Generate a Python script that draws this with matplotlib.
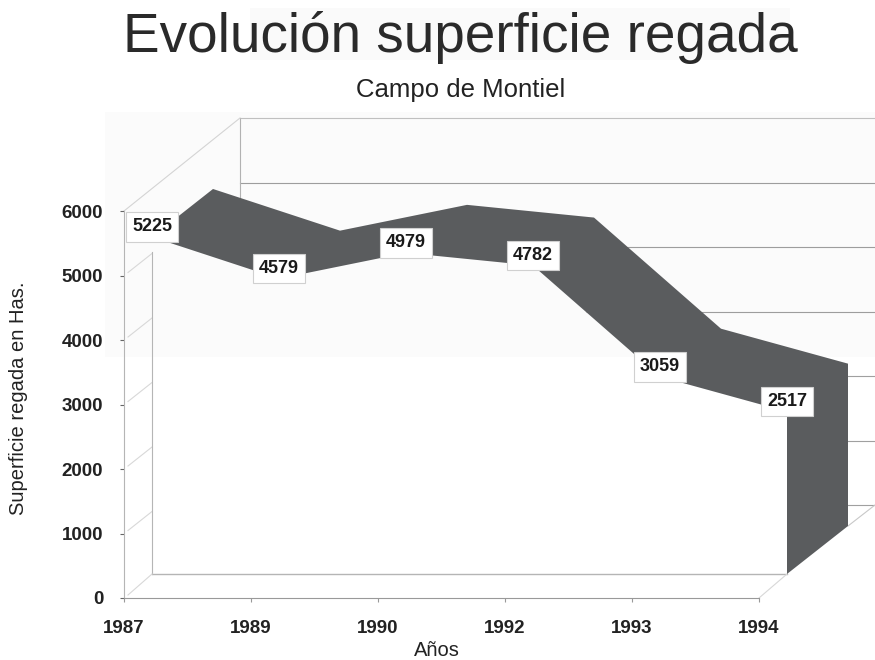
import matplotlib
matplotlib.use('Agg')
import matplotlib.pyplot as plt
from matplotlib.patches import Rectangle

plt.rcParams['font.family'] = ['Liberation Sans', 'DejaVu Sans']

# datos
anios = ['1987', '1989', '1990', '1992', '1993', '1994']
superficie = [5225, 4579, 4979, 4782, 3059, 2517]
ticks_y = [0, 1000, 2000, 3000, 4000, 5000, 6000]

fig = plt.figure(figsize=(8.75, 6.6), dpi=100)
ax = fig.add_axes([124 / 875, 62 / 660, 635 / 875, 387 / 660])
ax.set_xlim(0, 5)
ax.set_ylim(0, 6000)
ax.patch.set_alpha(0)

# pixeles a unidades de datos, para la profundidad 3D
px_x = 5 / 635
px_y = 6000 / 387


def prof(x, y, dx, dy):
    return x + dx * px_x, y + dy * px_y


xs = list(range(len(anios)))
der = 5 + 116 * px_x
gris = '#b5b5b5'

# pared del fondo
for v in ticks_y:
    x0, y0 = prof(0, v, 116, 93)
    c = '#c4c4c4' if v == 6000 else '#a0a0a0'
    ax.plot([x0, der], [y0, y0], color=c, lw=0.8, clip_on=False, zorder=1)
x0, y0 = prof(0, 6000, 116, 93)
x1, y1 = prof(0, 4200, 116, 93)
ax.plot([x0, x0], [y0, y1], color=gris, lw=0.8, clip_on=False, zorder=1)
x1, y1 = prof(0, 6000, 0, 0)
ax.plot([x1, x0], [y1, y0], color='#d8d8d8', lw=0.8, clip_on=False, zorder=1)

# lo que queda tapado debajo de la cinta
delante = [prof(x, v, 28, 24) for x, v in zip(xs, superficie)]
detras = [prof(x, v, 89, 72) for x, v in zip(xs, superficie)]
pie_a = prof(xs[0], 0, 28, 24)
pie_b = prof(xs[-1], 0, 28, 24)
tapa = delante + [pie_b, pie_a]
ax.fill([p[0] for p in tapa], [p[1] for p in tapa], color='white', lw=0, clip_on=False, zorder=1.2)

# veladura gris del escaneo
ax.axhspan(3736, 7535, xmin=-19 / 635, xmax=(875 - 124) / 635, color='black', alpha=0.015, lw=0,
           clip_on=False, zorder=1.3)

# pared izquierda y suelo
for v in ticks_y[1:-1]:
    a = prof(0, v, 4, 3)
    b = prof(0, v, 28, 22)
    ax.plot([a[0], b[0]], [a[1], b[1]], color='#d8d8d8', lw=0.8, clip_on=False, zorder=1.5)
a = prof(0, 5000, 28, 24)
ax.plot([a[0], pie_a[0]], [a[1], pie_a[1]], color=gris, lw=0.8, clip_on=False, zorder=1.5)
ax.plot([pie_a[0], pie_b[0]], [pie_a[1], pie_b[1]], color=gris, lw=1.0, clip_on=False, zorder=1.5)
a = prof(0, 0, 4, 3)
ax.plot([a[0], pie_a[0]], [a[1], pie_a[1]], color='#d8d8d8', lw=0.8, clip_on=False, zorder=1.5)
a = prof(5, 0, 0, 0)
ax.plot([a[0], pie_b[0]], [a[1], pie_b[1]], color='#d8d8d8', lw=0.8, clip_on=False, zorder=1.5)
a = prof(5, 0, 89, 72)
b = prof(5, 0, 116, 93)
ax.plot([a[0], b[0]], [a[1], b[1]], color='#c8c8c8', lw=0.8, clip_on=False, zorder=1.5)

# cinta oscura
poli = delante + [pie_b, prof(xs[-1], 0, 89, 72)] + detras[::-1]
ax.fill([p[0] for p in poli], [p[1] for p in poli], color='#5a5c5e', lw=0, clip_on=False, zorder=2)

# etiquetas de valores
for p, v in zip(delante, superficie):
    ax.text(p[0], p[1] + 10 * px_y, str(v), ha='center', va='center', fontsize=13, fontweight='bold',
            color='#1a1a1a', zorder=4, bbox=dict(boxstyle='square,pad=0.35', fc='white', ec='#d0d0d0', lw=0.8))

# ejes
for s in ('top', 'right'):
    ax.spines[s].set_visible(False)
ax.spines['left'].set_color(gris)
ax.spines['bottom'].set_color('#999999')
ax.set_xticks(xs)
ax.set_xticklabels(anios, fontsize=13.5, fontweight='bold', color='#222222')
ax.set_yticks(ticks_y)
ax.set_yticklabels([str(v) for v in ticks_y], fontsize=13.5, fontweight='bold', color='#222222')
ax.tick_params(axis='x', length=3, color='#999999', pad=13)
ax.tick_params(axis='y', length=3, color='#666666', pad=12)
ax.set_xlabel('Años', fontsize=14.5, color='#222222', va='center')
ax.xaxis.set_label_coords(313 / 635, -52 / 387)
ax.set_ylabel('Superficie regada en Has.', fontsize=14.5, color='#222222', va='center')
ax.yaxis.set_label_coords(-105 / 635, 200 / 387)

# banda gris detras del titulo
fig.add_artist(Rectangle((250 / 875, 1 - 60 / 660), 540 / 875, 52 / 660, transform=fig.transFigure,
                         color='black', alpha=0.02, lw=0))
fig.text(460 / 875, 1 - 38 / 660, 'Evolución superficie regada', ha='center', va='center',
         fontsize=39.5, color='#2a2a2a')
fig.text(461 / 875, 1 - 90 / 660, 'Campo de Montiel', ha='center', va='center',
         fontsize=18.5, color='#222222')

fig.savefig('out.png', dpi=100)
